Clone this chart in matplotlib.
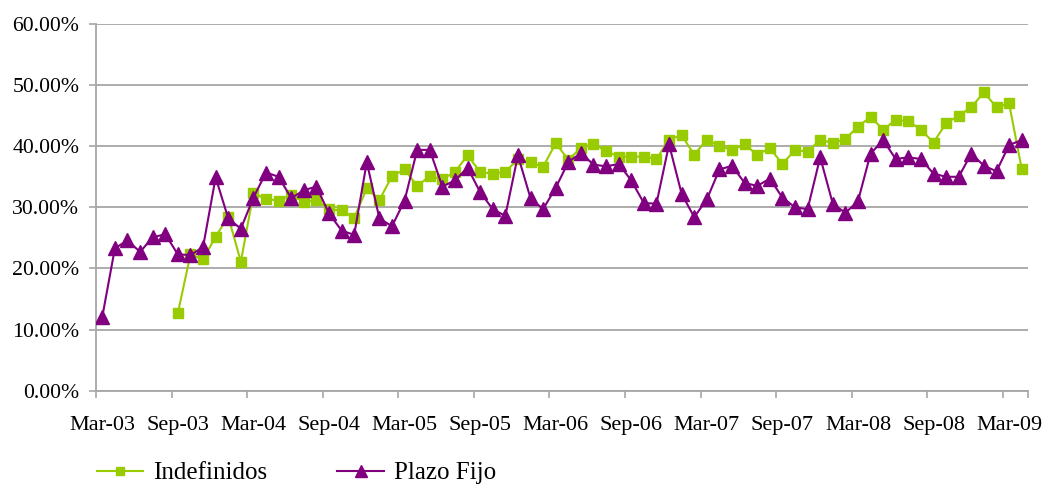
import matplotlib
matplotlib.use("Agg")
import matplotlib.pyplot as plt
from matplotlib.ticker import FixedLocator, FuncFormatter
import numpy as np

# Monthly series, Mar-03 .. Apr-09 (values in %)
months = ["Mar-03", "Apr-03", "May-03", "Jun-03", "Jul-03", "Aug-03",
          "Sep-03", "Oct-03", "Nov-03", "Dec-03", "Jan-04", "Feb-04",
          "Mar-04", "Apr-04", "May-04", "Jun-04", "Jul-04", "Aug-04",
          "Sep-04", "Oct-04", "Nov-04", "Dec-04", "Jan-05", "Feb-05",
          "Mar-05", "Apr-05", "May-05", "Jun-05", "Jul-05", "Aug-05",
          "Sep-05", "Oct-05", "Nov-05", "Dec-05", "Jan-06", "Feb-06",
          "Mar-06", "Apr-06", "May-06", "Jun-06", "Jul-06", "Aug-06",
          "Sep-06", "Oct-06", "Nov-06", "Dec-06", "Jan-07", "Feb-07",
          "Mar-07", "Apr-07", "May-07", "Jun-07", "Jul-07", "Aug-07",
          "Sep-07", "Oct-07", "Nov-07", "Dec-07", "Jan-08", "Feb-08",
          "Mar-08", "Apr-08", "May-08", "Jun-08", "Jul-08", "Aug-08",
          "Sep-08", "Oct-08", "Nov-08", "Dec-08", "Jan-09", "Feb-09",
          "Mar-09", "Apr-09"]

indefinidos = [None, None, None, None, None, None,
               12.7, 22.3, 21.5, 25.2, 28.5, 21.1,
               32.3, 31.4, 31.1, 32.0, 30.9, 31.2,
               29.7, 29.5, 28.3, 33.1, 31.2, 35.1,
               36.2, 33.5, 35.1, 34.6, 35.8, 38.5,
               35.8, 35.5, 35.8, 37.9, 37.4, 36.6,
               40.5, 37.8, 39.7, 40.4, 39.2, 38.3,
               38.3, 38.3, 37.9, 41.1, 41.8, 38.6,
               41.1, 40.0, 39.4, 40.3, 38.6, 39.7,
               37.1, 39.4, 39.1, 41.1, 40.5, 41.2,
               43.2, 44.8, 42.7, 44.3, 44.1, 42.7,
               40.6, 43.8, 45.0, 46.4, 48.8, 46.4,
               47.0, 36.3]

plazo_fijo = [12.1, 23.3, 24.6, 22.7, 25.1, 25.6,
              22.3, 22.2, 23.5, 34.9, 28.2, 26.5,
              31.6, 35.7, 35.0, 31.5, 32.8, 33.4,
              29.0, 26.2, 25.5, 37.4, 28.2, 26.9,
              31.1, 39.4, 39.4, 33.4, 34.4, 36.5,
              32.5, 29.7, 28.6, 38.5, 31.5, 29.7,
              33.2, 37.4, 38.9, 37.0, 36.7, 37.1,
              34.4, 30.7, 30.6, 40.3, 32.2, 28.4,
              31.3, 36.2, 36.8, 34.0, 33.5, 34.7,
              31.6, 30.0, 29.7, 38.2, 30.6, 29.1,
              31.0, 38.8, 41.0, 37.9, 38.2, 37.9,
              35.5, 35.0, 35.0, 38.8, 36.8, 35.9,
              40.2, 41.0]

series_names = ["Indefinidos", "Plazo Fijo"]
y_ticks = [0, 10, 20, 30, 40, 50, 60]

GREEN = "#99CC00"
PURPLE = "#800080"
GRID = "#A6A6A6"
FONT = "Liberation Serif"

plt.rcParams["font.family"] = [FONT, "DejaVu Serif"]

fig = plt.figure(figsize=(10.46, 4.87), dpi=100)
ax = fig.add_axes([96 / 1046, 1 - 390.7 / 487, (1028 - 96) / 1046, (390.7 - 24) / 487])

x = np.arange(len(months))
ind = np.array([np.nan if v is None else v for v in indefinidos], dtype=float)
pf = np.array(plazo_fijo, dtype=float)

l1, = ax.plot(x, ind, color=GREEN, lw=1.5, marker="s", markersize=7,
              markeredgecolor=GREEN, markerfacecolor=GREEN, zorder=3)
l2, = ax.plot(x, pf, color=PURPLE, lw=1.5, marker="^", markersize=9.5,
              markeredgecolor=PURPLE, markerfacecolor=PURPLE, zorder=4)

ax.set_xlim(-0.5, len(months) - 0.5)
ax.set_ylim(0, 60)

# y axis
ax.yaxis.set_major_locator(FixedLocator(y_ticks))
ax.yaxis.set_major_formatter(FuncFormatter(lambda v, p: f"{v:.2f}%"))
ax.yaxis.grid(True, color=GRID, lw=1.3)
ax.set_axisbelow(True)
ax.tick_params(axis="y", direction="out", length=5, width=1.2, color=GRID,
               labelsize=15.7, pad=7, labelcolor="black")

# x axis: tick marks at category boundaries, labels every six months
label_idx = list(range(0, len(months), 6))
ax.xaxis.set_major_locator(FixedLocator([i - 0.5 for i in label_idx] + [len(months) - 0.5]))
ax.xaxis.set_major_formatter(FuncFormatter(lambda v, p: ""))
ax.xaxis.set_minor_locator(FixedLocator(label_idx))
ax.xaxis.set_minor_formatter(FuncFormatter(lambda v, p: months[int(round(v))]))
ax.tick_params(axis="x", which="major", direction="out", length=5, width=1.2, color=GRID)
ax.tick_params(axis="x", which="minor", length=0, labelsize=16, pad=18, labelcolor="black")

for side in ["top", "right"]:
    ax.spines[side].set_visible(False)
for side in ["left", "bottom"]:
    ax.spines[side].set_color(GRID)
    ax.spines[side].set_linewidth(1.3)

fig.legend([l1, l2], series_names, loc="center left",
           bbox_to_anchor=(97 / 1046, 1 - 473 / 487), ncol=2, frameon=False,
           fontsize=18, handlelength=1.85, handletextpad=0.4, columnspacing=2.8,
           borderpad=0, borderaxespad=0, markerscale=0.9)

fig.savefig("out.png", dpi=100)
